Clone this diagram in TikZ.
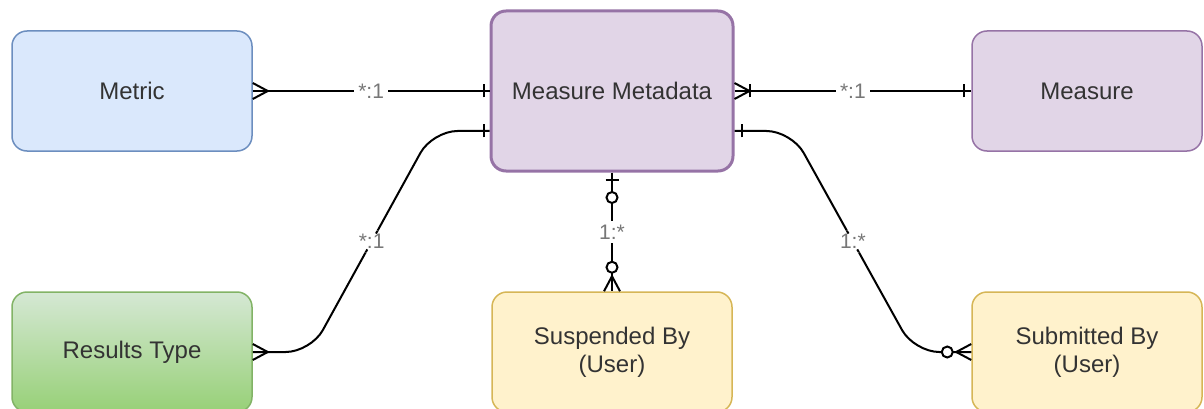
\documentclass[tikz,border=0pt]{standalone}
\usepackage{fontspec}
\setmainfont{Liberation Sans}
\usetikzlibrary{decorations.markings}
\definecolor{fillBlue}{HTML}{DAE8FC}
\definecolor{lineBlue}{HTML}{6C8EBF}
\definecolor{fillPurple}{HTML}{E1D5E7}
\definecolor{linePurple}{HTML}{9673A6}
\definecolor{topGreen}{HTML}{D5E8D4}
\definecolor{bottomGreen}{HTML}{97D077}
\definecolor{lineGreen}{HTML}{82B366}
\definecolor{fillYellow}{HTML}{FFF2CC}
\definecolor{lineYellow}{HTML}{D6B656}
\definecolor{boxText}{HTML}{333333}
\definecolor{cardText}{HTML}{777777}
\newcommand{\crowfoot}{\draw[mline] (0,8) -- (15,0) -- (0,-8);}
\newcommand{\onebar}[1]{\draw[mline] (#1,6.5) -- (#1,-6.5);}
\newcommand{\ring}[1]{\draw[mline, fill=white] (#1,0) circle (5.5);}
\tikzset{
  entity/.style={draw, rounded corners=15pt, line width=1.5pt, minimum height=120pt,
    align=center, text=boxText, font=\fontsize{24}{28}\selectfont},
  rel/.style={draw, line width=2pt},
  mline/.style={line width=2pt, sharp corners},
  card/.style={fill=white, text=cardText, inner sep=4pt, font=\fontsize{21}{24}\selectfont},
  srcend/.style={postaction={decorate, decoration={markings,
    mark=at position 0 with {#1}}}},
  tgtend/.style={postaction={decorate, decoration={markings,
    mark=at position 1 with {\begin{scope}[xscale=-1]#1\end{scope}}}}}
}
\begin{document}
\begin{tikzpicture}[x=1pt, y=-1pt]
  \useasboundingbox (0,0) rectangle (1204,409);
  \node[entity, fill=fillBlue, draw=lineBlue, minimum width=240pt] at (132,91) (metric) {Metric};
  \node[entity, fill=fillPurple, draw=linePurple, line width=3pt, minimum width=242pt,
    minimum height=160pt] at (612,91) (mmeta) {Measure Metadata};
  \node[entity, fill=fillPurple, draw=linePurple, minimum width=230pt] at (1087,91) (measure) {Measure};
  \node[entity, top color=topGreen, bottom color=bottomGreen, draw=lineGreen,
    minimum width=240pt] at (132,352) (results) {Results Type};
  \node[entity, fill=fillYellow, draw=lineYellow, minimum width=240pt] at (612,352) (suspended) {Suspended By\\(User)};
  \node[entity, fill=fillYellow, draw=lineYellow, minimum width=230pt] at (1087,352) (submitted) {Submitted By\\(User)};
  \draw[rel, srcend=\crowfoot, tgtend=\onebar{6}] (metric.east) -- node[card] {*:1} (mmeta.west);
  \draw[rel, srcend={\crowfoot\onebar{15}}, tgtend=\onebar{7}] (mmeta.east) -- node[card] {*:1} (measure.west);
  \draw[rel, rounded corners=25pt, srcend=\crowfoot, tgtend=\onebar{6}] (results.east) -- ++(58,0)
    -- node[card] {*:1} ([xshift=-57pt,yshift=-40pt]mmeta.west) -- ([yshift=-40pt]mmeta.west);
  \draw[rel, srcend={\onebar{7}\ring{25}}, tgtend={\crowfoot\ring{24}}] (mmeta.south)
    -- node[card] {1:*} (suspended.north);
  \draw[rel, rounded corners=25pt, srcend=\onebar{7}, tgtend={\crowfoot\ring{24}}] ([yshift=-40pt]mmeta.east)
    -- ++(57,0) -- node[card] {1:*} ([xshift=-57pt]submitted.west) -- (submitted.west);
\end{tikzpicture}
\end{document}
